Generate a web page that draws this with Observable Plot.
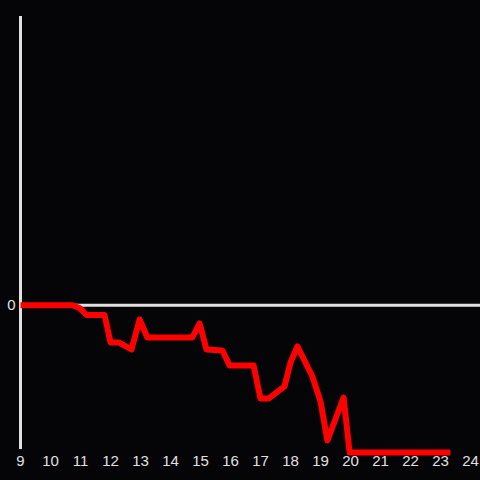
<!DOCTYPE html>
<html>
<head>
<meta charset="utf-8">
<script src="https://cdn.jsdelivr.net/npm/d3@7"></script>
<script src="https://cdn.jsdelivr.net/npm/@observablehq/plot@0.6"></script>
<style>
  html, body { margin: 0; padding: 0; background: #050407; }
  #chart svg { display: block; }
  #chart svg text { font-size: 15px; font-family: 'Liberation Sans', Arial, sans-serif; }
</style>
</head>
<body>
<div id="chart"></div>
<script>
const hours = [9.0, 10.73, 10.97, 11.2, 11.8, 12.0, 12.27, 12.7, 12.97, 13.23, 14.73, 14.97, 15.2, 15.73, 15.97, 16.77, 17.0, 17.27, 17.8, 18.0, 18.23, 18.73, 19.0, 19.23, 19.77, 19.97, 23.33];
const values = [0, 0, -0.02, -0.068, -0.068, -0.258, -0.258, -0.307, -0.099, -0.224, -0.224, -0.127, -0.307, -0.314, -0.418, -0.418, -0.647, -0.647, -0.563, -0.397, -0.286, -0.494, -0.667, -0.938, -0.640, -1.021, -1.021];
const xTicks = [9, 10, 11, 12, 13, 14, 15, 16, 17, 18, 19, 20, 21, 22, 23, 24];
const yTicks = [0];
const xEnd = 24.34;

const data = hours.map((h, i) => ({hour: h, value: values[i]}));

const chart = Plot.plot({
  width: 480,
  height: 480,
  marginLeft: 20,
  marginRight: 10,
  marginTop: 16,
  marginBottom: 31,
  style: {background: "#050407", color: "#e0e0e0", fontFamily: "'Liberation Sans', Arial, sans-serif", fontSize: "15px"},
  x: {domain: [9, 24]},
  y: {domain: [-1, 2]},
  marks: [
    Plot.axisX({ticks: xTicks, tickSize: 0, tickPadding: 6, tickFormat: d => String(d), label: null, fontSize: 15, fill: "#e0e0e0"}),
    Plot.axisY({ticks: yTicks, tickSize: 0, tickPadding: 5, tickFormat: d => String(d), label: null, fontSize: 15, fill: "#e0e0e0"}),
    Plot.ruleY(yTicks, {x1: 9, x2: xEnd, stroke: "#e0e0e0", strokeWidth: 3, strokeOpacity: 1}),
    Plot.ruleX([9], {stroke: "#e0e0e0", strokeWidth: 3, strokeOpacity: 1}),
    Plot.line(data, {x: "hour", y: "value", stroke: "#ff0000", strokeWidth: 6, strokeLinejoin: "round", strokeLinecap: "butt"})
  ]
});
document.getElementById("chart").appendChild(chart);
</script>
</body>
</html>
